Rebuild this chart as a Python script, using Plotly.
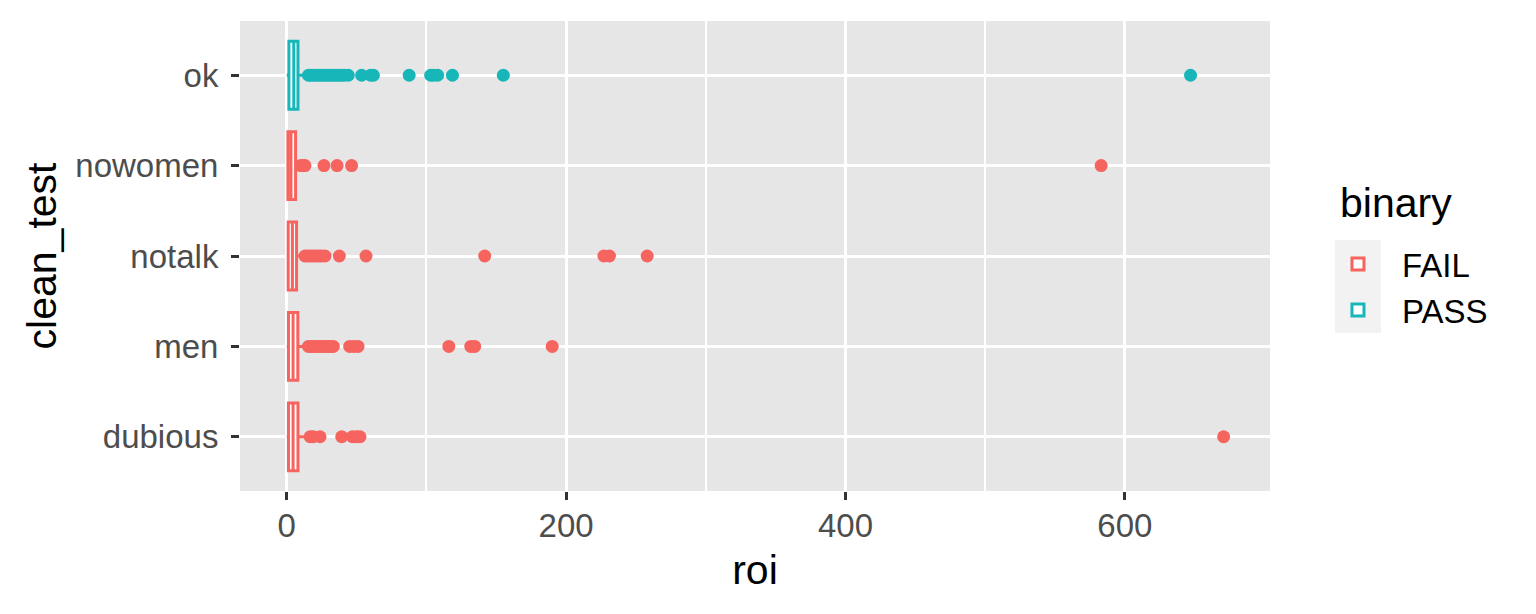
import plotly.graph_objects as go

# ---- data ----
categories = ["dubious", "men", "notalk", "nowomen", "ok"]
binary = ["FAIL", "FAIL", "FAIL", "FAIL", "PASS"]
lower_fence = [0, 0, 0, 0, 0]
q1 = [1.2, 1.2, 1.0, 0.8, 1.5]
median = [4.5, 4.5, 4, 3, 5]
q3 = [8, 7.9, 7, 6.3, 8]
upper_fence = [15, 14, 12, 9, 14]

outliers_dubious = [16.7, 19, 23.8, 39.3, 47, 50, 52.4, 670.7]
outliers_men = [15.5, 17.5, 19.5, 21.5, 23.5, 25.5, 27.5, 29.5, 31.5, 33.3,
                45, 48, 51, 116, 131.7, 134.5, 190]
outliers_notalk = [13, 15, 17, 19, 21, 23, 25, 27.4, 37.6, 56.7, 141.7, 227, 231, 258]
outliers_nowomen = [10, 11.5, 13, 26.6, 36, 46.4, 583]
outliers_ok = [15.5, 17, 19, 21, 23, 25, 27, 29, 31, 33, 35, 37, 39, 41, 44,
               53.6, 60, 62, 87.6, 103, 105, 108, 118.6, 155, 647]
outliers = {
    "dubious": outliers_dubious,
    "men": outliers_men,
    "notalk": outliers_notalk,
    "nowomen": outliers_nowomen,
    "ok": outliers_ok,
}

colors = {"FAIL": "#F6645F", "PASS": "#17B6B9"}
legend_ids = {"FAIL": "legend", "PASS": "legend2"}

fig = go.Figure()

for grp in ["FAIL", "PASS"]:
    idx = [i for i, b in enumerate(binary) if b == grp]
    fig.add_trace(go.Box(
        name=grp,
        orientation="h",
        y=[categories[i] for i in idx],
        q1=[q1[i] for i in idx],
        median=[median[i] for i in idx],
        q3=[q3[i] for i in idx],
        lowerfence=[lower_fence[i] for i in idx],
        upperfence=[upper_fence[i] for i in idx],
        boxpoints=False,
        width=0.75,
        whiskerwidth=0,
        fillcolor="white",
        line=dict(color=colors[grp], width=3),
        legendgroup=grp,
        legend=legend_ids[grp],
    ))
    for i in idx:
        cat = categories[i]
        fig.add_trace(go.Scatter(
            x=outliers[cat],
            y=[cat] * len(outliers[cat]),
            mode="markers",
            marker=dict(color=colors[grp], size=13, line=dict(width=0)),
            showlegend=False,
            legendgroup=grp,
        ))

legend_common = dict(
    font=dict(size=33, color="black"),
    x=1.0427, xanchor="left",
    yanchor="middle",
    bgcolor="rgba(0,0,0,0)",
    itemwidth=78,
)

# grey legend key backgrounds (ggplot style)
key_shapes = []
for y0, y1 in [(0.434, 0.534), (0.336, 0.434)]:
    key_shapes.append(dict(
        type="rect", xref="paper", yref="paper",
        x0=1.0631, x1=1.1078, y0=y0, y1=y1,
        fillcolor="#F2F2F2", line=dict(width=0), layer="below",
    ))

fig.update_layout(
    width=1536, height=614,
    margin=dict(l=232, r=274, t=13, b=131),
    paper_bgcolor="white",
    plot_bgcolor="#E6E6E6",
    boxmode="overlay",
    font=dict(family="Liberation Sans, Arial, sans-serif", color="black"),
    legend=dict(y=0.483, **legend_common),
    legend2=dict(y=0.385, **legend_common),
    shapes=key_shapes,
    annotations=[dict(
        text="binary", xref="paper", yref="paper",
        x=1.066, y=0.613, xanchor="left", yanchor="middle",
        showarrow=False, font=dict(size=41, color="black"),
    )],
    xaxis=dict(
        title=dict(text="roi", font=dict(size=41, color="black"), standoff=12),
        range=[-33.5, 703.9],
        tickvals=[0, 200, 400, 600],
        ticktext=["0", "200", "400", "600"],
        tickfont=dict(size=33, color="#4D4D4D"),
        ticks="outside", ticklen=8, tickwidth=2.5, tickcolor="#333333",
        ticklabelstandoff=-3,
        showgrid=True, gridcolor="white", gridwidth=3.2,
        minor=dict(tickvals=[100, 300, 500], showgrid=True, gridcolor="white", gridwidth=1.6, ticks=""),
        zeroline=False, showline=False,
    ),
    yaxis=dict(
        title=dict(text="clean_test", font=dict(size=41, color="black"), standoff=5),
        type="category",
        categoryorder="array", categoryarray=categories,
        range=[-0.6, 4.6],
        tickfont=dict(size=33, color="#4D4D4D"),
        ticks="outside", ticklen=8, tickwidth=2.5, tickcolor="#333333",
        ticklabelstandoff=6,
        showgrid=True, gridcolor="white", gridwidth=3.2,
        zeroline=False, showline=False,
    ),
)

fig.write_html("out.html")
